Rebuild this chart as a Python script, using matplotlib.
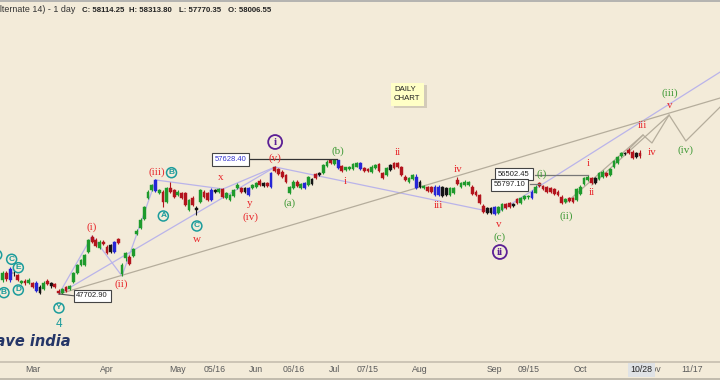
import matplotlib.pyplot as plt
from matplotlib.lines import Line2D
from matplotlib.patches import Rectangle

# daily candles (first bar mid Feb, last bar 10/28)
opens = [48735, 49252, 48735, 49273, 49104, 48550, 48683, 48535, 48491, 48513,
         48218, 48071, 48683, 48513, 48439, 47923, 47775, 48218, 48071, 48587,
         49252, 49842, 49842, 50801, 51909, 51687, 51097, 51539, 51170, 51318,
         50801, 51761, 49178, 50359, 50432, 50506, 52130, 52573, 53237, 54787,
         55377, 55325, 55156, 55251, 54513, 55525, 55377, 55008, 55156, 55156,
         53901, 54787, 54049, 54513, 55251, 55156, 54639, 55377, 55251, 55451,
         54787, 54639, 54934, 55525, 55525, 55525, 55008, 55525, 55621, 56063,
         55894, 55894, 55621, 57075, 56927, 56727, 56484, 55156, 55525, 55990,
         55525, 55525, 55746, 56189, 56558, 56654, 56654, 57149, 57591, 57296,
         57591, 57126, 56853, 56905, 56927, 57111, 57348, 56979, 56905, 56727,
         57001, 57296, 56654, 56484, 56853, 57348, 57348, 57053, 56358, 55990,
         56167, 56358, 55990, 55503, 55577, 55577, 55621, 55008, 55577, 55008,
         55008, 55133, 56115, 55621, 55746, 55709, 55621, 55251, 55008, 54196,
         54027, 53657, 53606, 53657, 53901, 54344, 54395, 54344, 54690, 54395,
         54690, 54845, 54764, 55178, 55872, 55672, 55577, 55503, 55429, 55251,
         54882, 54513, 54764, 54764, 54639, 55082, 55820, 56115, 56240, 56240,
         56167, 56358, 56609, 56484, 57097, 57348, 57886, 58034, 58329, 58204,
         58129, 58085]
highs = [49399, 49399, 49694, 49473, 49178, 48735, 48809, 48846, 48587, 48624,
         48329, 48624, 48809, 48587, 48550, 48034, 48144, 48292, 48366, 49325,
         49916, 50285, 50654, 51761, 52057, 51798, 51650, 51687, 51281, 51392,
         51613, 51835, 49990, 50801, 50580, 51097, 52462, 53274, 54196, 55340,
         55820, 56189, 55451, 55377, 55599, 55968, 55451, 55340, 55229, 55229,
         54749, 54897, 54196, 55451, 55340, 55229, 55488, 55451, 55525, 55525,
         55229, 55082, 55451, 55857, 55599, 55599, 55599, 55820, 55968, 56152,
         55968, 55968, 56742, 57149, 57001, 56816, 56558, 55672, 56078, 56078,
         55894, 55968, 56410, 56263, 56632, 56742, 57296, 57554, 57600, 57628.4,
         57620, 57222, 57111, 57149, 57370, 57407, 57444, 57053, 56979, 57185,
         57296, 57370, 56742, 57075, 57296, 57422, 57444, 57149, 56447, 56337,
         56558, 56521, 56078, 55746, 55636, 55636, 55709, 55709, 55672, 55599,
         55599, 55599, 56300, 55968, 56078, 56041, 55709, 55340, 55082, 54307,
         54122, 54122, 54196, 54196, 54418, 54454, 54491, 54418, 54787, 54860,
         55008, 55008, 55340, 55709, 55968, 55746, 55672, 55599, 55525, 55340,
         54971, 54787, 54860, 54860, 55525, 55709, 56337, 56447, 56337, 56337,
         56706, 56816, 56706, 57001, 57560, 57886, 58218, 58218, 58440, 58329,
         58218, 58313.8]
lows = [48587, 48661, 48587, 49030, 48624, 48439, 48366, 48439, 48144, 47849,
        47738, 47997, 48329, 48181, 48144, 47702.9, 47738, 47849, 47997, 48513,
        49178, 49768, 49768, 50728, 51465, 51170, 51023, 51281, 50654, 50728,
        50728, 51392, 49030, 50137, 49842, 50432, 52057, 52499, 53163, 54713,
        55303, 55229, 55082, 54145, 54418, 55156, 54787, 54934, 54676, 54196,
        53827, 54196, 53532, 54418, 54787, 54565, 54565, 55156, 55156, 54787,
        54713, 54565, 54860, 55451, 55156, 55156, 54934, 55451, 55525, 55672,
        55599, 55599, 55525, 56706, 56484, 56263, 55894, 55082, 55451, 55599,
        55451, 55451, 55672, 55746, 56152, 56410, 56558, 57075, 57259, 57222,
        56890, 56706, 56779, 56816, 56853, 57038, 56816, 56706, 56669, 56632,
        56927, 56706, 56152, 56410, 56779, 56890, 56964, 56410, 56041, 55894,
        56078, 55414, 55525, 55414, 55229, 55156, 54934, 54934, 54860, 54934,
        54934, 55045, 55746, 55525, 55672, 55636, 55008, 54934, 54307, 53680,
        53569, 53569, 53532, 53569, 53827, 53938, 54012, 54122, 54307, 54307,
        54602, 54749, 54676, 55119, 55599, 55340, 55156, 55156, 55008, 54897,
        54307, 54381, 54491, 54418, 54565, 55008, 55746, 56041, 55820, 55783,
        56078, 56263, 56300, 56410, 57001, 57259, 57813, 57960, 57997, 57628,
        57739, 57770.35]
closes = [49229, 48809, 49547, 49229, 48735, 48624, 48491, 48735, 48240, 47945,
          47797, 48513, 48439, 48292, 48218, 47775, 48071, 47923, 48292, 49252,
          49842, 50211, 50580, 51687, 51539, 51244, 51539, 51392, 50728, 50801,
          51539, 51465, 49842, 50728, 49916, 51023, 52351, 53163, 54122, 55229,
          55746, 56115, 55377, 54513, 55525, 55251, 54882, 55251, 54787, 54270,
          54639, 54270, 53901, 55377, 54882, 54639, 55377, 55251, 55451, 54882,
          55156, 55008, 55377, 55746, 55251, 55251, 55525, 55746, 55894, 55746,
          55672, 55672, 56654, 56801, 56558, 56358, 55990, 55599, 55990, 55672,
          55820, 55894, 56337, 55820, 56240, 56484, 57222, 57465, 57348, 57591,
          56979, 56779, 57053, 57075, 57296, 57348, 56905, 56779, 56757, 57097,
          57222, 56801, 56240, 56979, 57222, 56979, 57053, 56484, 56115, 56240,
          56484, 55503, 55621, 55672, 55325, 55251, 55008, 55621, 54934, 55503,
          55503, 55503, 55820, 55872, 55990, 55968, 55082, 55008, 54395, 53776,
          53657, 54027, 54100, 54100, 54344, 54027, 54100, 54196, 54395, 54764,
          54934, 54919, 55251, 55621, 55672, 55429, 55251, 55251, 55082, 55008,
          54395, 54690, 54565, 54513, 55429, 55621, 56240, 56358, 55916, 55872,
          56609, 56727, 56410, 56905, 57539, 57791, 58129, 58129, 58085, 57717,
          57835, 57886]
# candle colours used by the charting tool: g up, r down, b blue, k black
candle_colors = ("grbkrgrgrbkgrkrrgrgg" "ggggrrgrrkbrggrggggg" "gbgrgrrgrrgrkgrrbkgr"
                 "ggggrkbggrkrbrrrrggr" "gbgkrkggrgbrggggbrrg" "grrgkrrrrggbkgrrbbkk"
                 "ggrgggrrrrkkbggrrkrg" "ggbgrrrrrrrgrrggggrk" "ggrggggkrrkr")

tick_pos = [8, 28, 47, 57, 68, 78, 89, 98, 112, 132, 141, 155, 174.5, 185]
tick_labels = ['Mar', 'Apr', 'May', '05/16', 'Jun', '06/16', 'Jul', '07/15',
               'Aug', 'Sep', '09/15', 'Oct', 'Nov', '11/17']

RED = '#e8262b'
GREEN = '#3f9a36'
TEAL = '#1b9c9c'
PURPLE = '#5b1f95'
LAV = '#bab4ea'
GREY = '#b5ad9c'
BG = '#f3ebd9'

# elliott wave labels (bar, price, text, colour)
wave_labels = [
    (24.0, 52646, '(i)', RED), (31.9, 48440, '(ii)', RED), (41.3, 56654, '(iii)', RED),
    (52.1, 51738, 'w', RED), (58.5, 56314, 'x', RED), (66.2, 54395, 'y', RED),
    (66.6, 53406, '(iv)', RED), (73.1, 57739, '(v)', RED), (77.1, 54417, '(a)', GREEN),
    (90.0, 58277, '(b)', GREEN), (92.0, 55990, 'i', RED), (106.1, 58130, 'ii', RED),
    (116.9, 54196, 'iii', RED), (122.3, 56853, 'iv', RED), (133.2, 52794, 'v', RED),
    (133.4, 51886, '(c)', GREEN), (144.6, 56521, '(i)', GREEN), (151.1, 53458, '(ii)', GREEN),
    (157.1, 57296, 'i', RED), (158.2, 55178, 'ii', RED), (171.7, 60100, 'iii', RED),
    (174.2, 58130, 'iv', RED), (178.9, 61576, 'v', RED), (178.9, 62513, '(iii)', GREEN),
    (183.3, 58329, '(iv)', GREEN),
]
teal_circles = [(43.1, 53458, 'A'), (45.3, 56654, 'B'), (52.1, 52720, 'C'),
                (15.1, 46669, 'Y'), (2.4, 50263, 'C'), (4.2, 49643, 'E'),
                (0.35, 47800, 'B'), (4.2, 47997, 'D'), (-1.6, 50580, 'A')]
purple_circles = [(73.1, 58919, 'i'), (133.4, 50801, 'ii')]

lav_lines = [
    [(15.1, 47703), (24.0, 51982), (32.0, 49030), (41.1, 56115)],
    [(15.1, 47703), (73.1, 57075)],
    [(41.1, 56115), (59.1, 55451), (73.1, 57075)],
    [(73.1, 57075), (132.6, 53680)],
    [(132.6, 53680), (192.5, 64085)],
]
grey_lines = [
    [(15.1, 47703), (192.5, 62167)],
    [(167.8, 58329), (171.8, 59436), (174.2, 58846), (178.8, 60912), (183.3, 58993), (192.5, 61502)],
    [(151.1, 54418), (171.8, 59436)],
    [(158.1, 55746), (178.8, 60912)],
]

fig = plt.figure(figsize=(7.2, 3.8), dpi=100)
fig.patch.set_facecolor(BG)
ax = fig.add_axes([0, 18 / 380, 1, 361 / 380])
ax.set_facecolor(BG)

for path in lav_lines:
    ax.plot(*zip(*path), color=LAV, lw=0.9, zorder=2)
for path in grey_lines:
    ax.plot(*zip(*path), color=GREY, lw=0.9, zorder=2)

cmap = {'g': '#1e9a2c', 'r': '#b3141d', 'b': '#2626d6', 'k': '#141414'}
cols = [cmap[c] for c in candle_colors]
x = list(range(len(opens)))
ax.vlines(x, lows, highs, colors=cols, lw=0.8, zorder=3)
bottoms = [min(o, c) for o, c in zip(opens, closes)]
heights = [max(abs(c - o), 45) for o, c in zip(opens, closes)]
ax.bar(x, heights, bottom=bottoms, width=0.74, color=cols, edgecolor=cols, lw=0.3, zorder=4)

for bx, py, s, c in wave_labels:
    ax.text(bx, py, s, color=c, fontsize=8, family='Liberation Serif',
            ha='center', va='center', zorder=6)
for bx, py, s in teal_circles:
    ax.text(bx, py, s, color=TEAL, fontsize=6, family='Liberation Sans', fontweight='bold',
            ha='center', va='center', zorder=6,
            bbox=dict(boxstyle='circle,pad=0.18', fc='none', ec=TEAL, lw=1.1))
for bx, py, s in purple_circles:
    ax.text(bx, py, s, color=PURPLE, fontsize=8, family='Liberation Serif', fontweight='bold',
            ha='center', va='center', zorder=6,
            bbox=dict(boxstyle='circle,pad=0.22', fc='none', ec=PURPLE, lw=1.3))
ax.text(15.1, 45488, '4', color=TEAL, fontsize=8.5, family='Liberation Sans',
        ha='center', va='center', zorder=6)

# price call-outs
box = dict(boxstyle='square,pad=0.35', fc='white', ec='#444444', lw=0.8)
ax.plot([66.4, 89.7], [57628.4, 57628.4], color='#333333', lw=0.9, zorder=5)
ax.text(61.1, 57628.4, '57628.40', color='#3434cc', fontsize=5.5, family='Liberation Sans',
        ha='center', va='center', bbox=box, zorder=7)
ax.plot([15.1, 19.6], [47703, 47554], color='#555555', lw=0.8, zorder=5)
ax.text(24.0, 47554, '47702.90', color='#222222', fontsize=5.5, family='Liberation Sans',
        ha='center', va='center', bbox=box, zorder=7)
ax.plot([142.8, 157.1], [56502.45, 56502.45], color='#777777', lw=0.9, zorder=5)
ax.text(137.2, 56540, '56502.45', color='#222222', fontsize=5.5, family='Liberation Sans',
        ha='center', va='center', bbox=box, zorder=7)
ax.plot([141.5, 144.2], [55797.1, 55797.1], color='#777777', lw=0.9, zorder=5)
ax.text(136.1, 55746, '55797.10', color='#222222', fontsize=5.5, family='Liberation Sans',
        ha='center', va='center', bbox=box, zorder=7)

ax.set_xlim(-0.72, 192.46)
ax.set_ylim(42683, 69325)
for side in ['top', 'left', 'right']:
    ax.spines[side].set_visible(False)
ax.spines['bottom'].set_color('#c9c2b3')
ax.spines['bottom'].set_linewidth(1.3)
ax.set_yticks([])
ax.set_xticks(tick_pos)
ax.set_xticklabels(tick_labels, fontsize=6.3, color='#5a5a5a', family='Liberation Sans')
ax.tick_params(axis='x', length=0, pad=2.5)
ax.annotate('10/28', xy=(171.3, 0), xycoords=('data', 'axes fraction'),
            xytext=(0, -2.5), textcoords='offset points', ha='center', va='top',
            fontsize=6.3, color='#222222', family='Liberation Sans', annotation_clip=False,
            bbox=dict(boxstyle='square,pad=0.3', fc='#dfe2e5', ec='none'), zorder=10)

# header
hy = 1 - 10 / 380
fig.text(75 / 720, hy, '(Alternate 14) - 1 day', ha='right', va='center',
         fontsize=6.4, color='#333333', family='Liberation Sans')
for px, s in [(81.7, 'C: 58114.25'), (129.3, 'H: 58313.80'), (179.3, 'L: 57770.35'), (228.3, 'O: 58006.55')]:
    fig.text(px / 720, hy, s, ha='left', va='center', fontsize=5.6, color='#222222',
             family='Liberation Sans', fontweight='bold')
fig.add_artist(Line2D([0, 1], [379.4 / 380] * 2, color='#a9a9a9', lw=1.2))
fig.add_artist(Line2D([0, 1], [0.8 / 380] * 2, color='#b9b3a6', lw=1.2))

# daily chart note
fig.add_artist(Rectangle((394 / 720, 1 - 108 / 380), 33 / 720, 23 / 380, fc='#d3cbb9', ec='none'))
fig.add_artist(Rectangle((391 / 720, 1 - 106 / 380), 33 / 720, 23 / 380, fc='#ffffc6', ec='none'))
fig.text(394 / 720, 1 - 89.5 / 380, 'DAILY', fontsize=5.6, color='#222222',
         family='Liberation Sans', ha='left', va='center')
fig.text(394 / 720, 1 - 98.5 / 380, 'CHART', fontsize=5.6, color='#222222',
         family='Liberation Sans', ha='left', va='center')

# watermark
fig.text(71 / 720, 1 - 341 / 380, 'wave india', ha='right', va='center', fontsize=10.5,
         fontweight='bold', style='italic', color='#253668', family='DejaVu Sans')

fig.savefig('out.png', dpi=100, facecolor=BG)
